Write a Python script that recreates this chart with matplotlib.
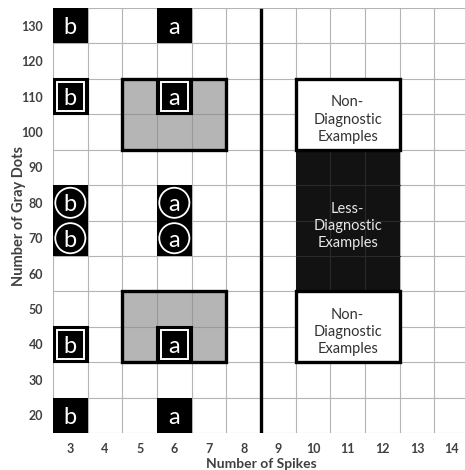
import matplotlib
matplotlib.use("Agg")
import matplotlib.pyplot as plt
from matplotlib.patches import Rectangle

plt.rcParams['font.family'] = ['Lato', 'DejaVu Sans']

# grid values
spikes = list(range(3, 15))
gray_dots = list(range(20, 140, 10))

# letter cells: (spikes, gray dots, letter, marker style)
cell_x = [3, 3, 3, 3, 3, 3, 6, 6, 6, 6, 6, 6]
cell_y = [130, 110, 80, 70, 40, 20, 130, 110, 80, 70, 40, 20]
cell_letter = ['b'] * 6 + ['a'] * 6
cell_style = ['plain', 'square', 'circle', 'circle', 'square', 'plain'] * 2

# shaded training regions (spikes range, gray dots range)
gray_x = [5, 7]
gray_y = [(100, 110), (40, 50)]

# example regions on the right side
ex_x = [10, 12]
ex_y = [(100, 110), (60, 90), (40, 50)]
ex_label = ['Non-\nDiagnostic\nExamples', 'Less-\nDiagnostic\nExamples', 'Non-\nDiagnostic\nExamples']
ex_dark = [False, True, False]

divider_x = 8.5


def inner_grid(x0, x1, y0, y1, col, z):
    # grid lines that show through a filled block
    for xv in range(x0, x1):
        ax.plot([xv + 0.5, xv + 0.5], [y0 - 5, y1 + 5], color=col, lw=0.8, zorder=z)
    for yv in range(y0 + 5, y1, 10):
        ax.plot([x0 - 0.5, x1 + 0.5], [yv, yv], color=col, lw=0.8, zorder=z)


fig = plt.figure(figsize=(4.65, 4.70), dpi=100)
ax = fig.add_axes([53 / 465, 1 - 433 / 470, 416 / 465, 425 / 470])
ax.set_xlim(2.5, 14.5)
ax.set_ylim(15, 135)

grid_col = '#b4b4b4'
for xv in [s - 0.5 for s in spikes] + [spikes[-1] + 0.5]:
    ax.axvline(xv, color=grid_col, lw=0.8, zorder=2)
for yv in [g - 5 for g in gray_dots] + [gray_dots[-1] + 5]:
    ax.axhline(yv, color=grid_col, lw=0.8, zorder=2)

# gray boxes
for y0, y1 in gray_y:
    ax.add_patch(Rectangle((gray_x[0] - 0.5, y0 - 5), gray_x[1] - gray_x[0] + 1, y1 - y0 + 10,
                           facecolor='#b5b5b5', edgecolor='none', zorder=3))
    inner_grid(gray_x[0], gray_x[1], y0, y1, '#999999', 3.5)
    ax.add_patch(Rectangle((gray_x[0] - 0.5, y0 - 5), gray_x[1] - gray_x[0] + 1, y1 - y0 + 10,
                           facecolor='none', edgecolor='black', lw=2.4, zorder=6))

# right-side example regions
for (y0, y1), lab, dark in zip(ex_y, ex_label, ex_dark):
    x0 = ex_x[0] - 0.5
    w = ex_x[1] - ex_x[0] + 1
    h = y1 - y0 + 10
    if dark:
        ax.add_patch(Rectangle((x0, y0 - 5), w, h, facecolor='#121212', edgecolor='none', zorder=3))
        inner_grid(ex_x[0], ex_x[1], y0, y1, '#2a2a2a', 3.5)
        txt_col = '#e8e8e8'
    else:
        ax.add_patch(Rectangle((x0, y0 - 5), w, h, facecolor='white', edgecolor='black', lw=2.4, zorder=6))
        txt_col = '#333333'
    ax.text(x0 + w / 2, (y0 + y1) / 2 - 1.5, lab, ha='center', va='center', color=txt_col,
            fontsize=10.5, linespacing=1.3, zorder=7)

# letter cells
for x, y, let, sty in zip(cell_x, cell_y, cell_letter, cell_style):
    ax.add_patch(Rectangle((x - 0.5, y - 5), 1, 10, facecolor='black', edgecolor='black',
                           lw=1.5 if sty == 'square' else 0, zorder=7))
    if sty == 'square':
        ax.add_patch(Rectangle((x - 0.38, y - 4.0), 0.76, 8.0, facecolor='none', edgecolor='white',
                               lw=1.4, zorder=8))
    elif sty == 'circle':
        ax.scatter([x], [y], s=470, facecolor='none', edgecolor='white', linewidths=1.3, zorder=8)
    ax.text(x, y - 0.6, let, ha='center', va='center', color='white', fontsize=17, zorder=9)

ax.axvline(divider_x, ymin=0.005, ymax=0.995, color='black', lw=2.4, zorder=10)

ax.set_xticks(spikes)
ax.set_yticks(gray_dots)
ax.tick_params(length=0, pad=7, labelsize=9, labelcolor='#404040')
for t in ax.get_xticklabels() + ax.get_yticklabels():
    t.set_fontweight('bold')
for sp in ax.spines.values():
    sp.set_visible(False)

ax.set_xlabel('Number of Spikes', fontsize=10, fontweight='bold', color='#404040', labelpad=2)
ax.set_ylabel('Number of Gray Dots', fontsize=10.5, fontweight='bold', color='#404040')
ax.yaxis.set_label_coords(-0.066, 0.51)

fig.savefig('out.png', dpi=100)
